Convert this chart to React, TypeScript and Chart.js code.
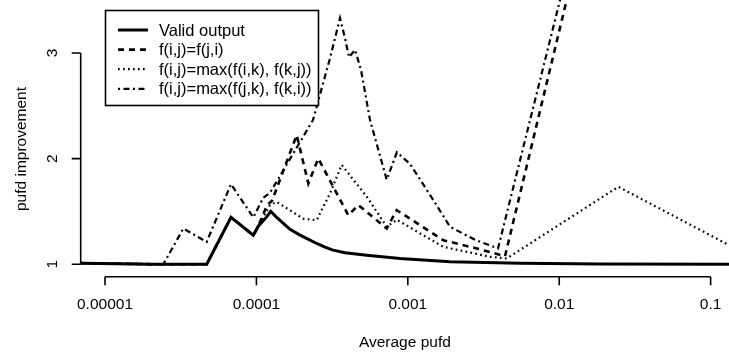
import React, { useEffect, useRef } from 'react';
import { Chart, registerables } from 'chart.js';

Chart.register(...registerables);

const FONT = '"Liberation Sans", Arial, Helvetica, sans-serif';

const seriesLabels = [
  'Valid output',
  'f(i,j)=f(j,i)',
  'f(i,j)=max(f(i,k), f(k,j))',
  'f(i,j)=max(f(j,k), f(k,i))',
];

const xTitle = 'Average pufd';
const yTitle = 'pufd improvement';

// Valid output (solid)
const validX = [6.91e-6, 2.0e-5, 4.695e-5, 6.795e-5, 9.539e-5, 1.029e-4, 1.169e-4, 1.243e-4, 1.368e-4, 1.506e-4, 1.667e-4, 1.941e-4, 2.192e-4, 2.502e-4, 2.838e-4, 3.204e-4, 3.847e-4, 5.352e-4, 8.881e-4, 1.9e-3, 5.508e-3, 0.0186, 0.1322, 0.2];
const validY = [1.01, 1.0, 1.0, 1.443, 1.275, 1.36, 1.448, 1.5, 1.44, 1.386, 1.33, 1.275, 1.237, 1.196, 1.161, 1.133, 1.109, 1.085, 1.054, 1.022, 1.008, 1.002, 1.0, 1.0];

// f(i,j)=f(j,i) (dashed)
const symX = [6.91e-6, 2.0e-5, 4.695e-5, 6.795e-5, 9.539e-5, 1.029e-4, 1.175e-4, 1.268e-4, 1.845e-4, 2.202e-4, 2.563e-4, 4.046e-4, 4.71e-4, 7.254e-4, 8.446e-4, 1.716e-3, 2.851e-3, 4.385e-3, 0.01585];
const symY = [1.01, 1.0, 1.0, 1.443, 1.275, 1.36, 1.56, 1.6, 2.223, 1.765, 2.0, 1.464, 1.56, 1.338, 1.512, 1.227, 1.149, 1.076, 4.4];

// f(i,j)=max(f(i,k), f(k,j)) (dotted)
const maxIkX = [6.91e-6, 2.0e-5, 4.695e-5, 6.795e-5, 9.539e-5, 1.029e-4, 1.229e-4, 1.362e-4, 1.585e-4, 2.04e-4, 2.502e-4, 3.061e-4, 3.659e-4, 4.365e-4, 5.352e-4, 7.254e-4, 8.47e-4, 1.716e-3, 3.49e-3, 4.499e-3, 0.02457, 0.1322, 0.15];
const maxIkY = [1.01, 1.0, 1.0, 1.443, 1.275, 1.36, 1.56, 1.59, 1.53, 1.43, 1.417, 1.67, 1.94, 1.8, 1.64, 1.354, 1.42, 1.164, 1.07, 1.054, 1.733, 1.18, 1.14];

// f(i,j)=max(f(j,k), f(k,i)) (dot-dash)
const maxJkX = [6.91e-6, 2.427e-5, 3.291e-5, 4.695e-5, 6.795e-5, 9.539e-5, 1.11e-4, 1.229e-4, 2.364e-4, 3.061e-4, 3.566e-4, 3.847e-4, 4.089e-4, 4.48e-4, 4.908e-4, 5.627e-4, 7.254e-4, 8.47e-4, 1.034e-3, 1.474e-3, 1.9e-3, 2.78e-3, 3.943e-3, 0.01585];
const maxJkY = [1.01, 1.0, 1.338, 1.211, 1.758, 1.443, 1.63, 1.676, 2.365, 2.95, 3.33, 3.14, 2.96, 3.03, 2.84, 2.365, 1.8, 2.06, 1.95, 1.607, 1.354, 1.23, 1.15, 4.62];

const xTicks = [0.00001, 0.0001, 0.001, 0.01, 0.1];
const xTickLabels = ['0.00001', '0.0001', '0.001', '0.01', '0.1'];
const yTicks = [1, 2, 3];
const yTickLabels = ['1', '2', '3'];

const toPts = (xs: number[], ys: number[]) => xs.map((x, i) => ({ x, y: ys[i] }));

const rAxesPlugin = {
  id: 'rAxes',
  afterDraw(chart: any) {
    const { ctx, chartArea } = chart;
    const xs = chart.scales.x;
    const ys = chart.scales.y;
    ctx.save();
    ctx.strokeStyle = '#000';
    ctx.lineWidth = 1.6;
    ctx.setLineDash([]);
    ctx.beginPath();
    const by = chartArea.bottom;
    const xa = xs.getPixelForValue(xTicks[0]);
    const xb = xs.getPixelForValue(xTicks[xTicks.length - 1]);
    ctx.moveTo(xa, by);
    ctx.lineTo(xb, by);
    for (const v of xTicks) {
      const p = xs.getPixelForValue(v);
      ctx.moveTo(p, by);
      ctx.lineTo(p, by + 8.5);
    }
    const lx = chartArea.left;
    const ya = ys.getPixelForValue(yTicks[0]);
    const yb = ys.getPixelForValue(yTicks[yTicks.length - 1]);
    ctx.moveTo(lx, ya);
    ctx.lineTo(lx, yb);
    for (const v of yTicks) {
      const p = ys.getPixelForValue(v);
      ctx.moveTo(lx, p);
      ctx.lineTo(lx - 9, p);
    }
    ctx.stroke();
    // y axis title (R centres it slightly lower than the visible plot area)
    ctx.save();
    ctx.translate(22, 149);
    ctx.rotate(-Math.PI / 2);
    ctx.font = `15.5px ${FONT}`;
    ctx.fillStyle = '#000';
    ctx.textAlign = 'center';
    ctx.textBaseline = 'middle';
    ctx.fillText(yTitle, 0, 0);
    ctx.restore();
    ctx.restore();
  },
};

const legendPlugin = {
  id: 'rLegend',
  afterDraw(chart: any) {
    const { ctx } = chart;
    const left = 105.5;
    const top = 10.5;
    const w = 213;
    const h = 95;
    const rowY0 = 30;
    const rowGap = 19.6;
    ctx.save();
    ctx.fillStyle = '#fff';
    ctx.fillRect(left, top, w, h);
    ctx.strokeStyle = '#000';
    ctx.lineWidth = 1.6;
    ctx.setLineDash([]);
    ctx.strokeRect(left, top, w, h);
    ctx.font = `16.5px ${FONT}`;
    ctx.textBaseline = 'middle';
    ctx.textAlign = 'left';
    ctx.fillStyle = '#000';
    chart.data.datasets.forEach((ds: any, i: number) => {
      const y = rowY0 + i * rowGap;
      ctx.beginPath();
      ctx.lineWidth = ds.borderWidth;
      ctx.setLineDash(ds.borderDash || []);
      ctx.moveTo(118, y);
      ctx.lineTo(148, y);
      ctx.stroke();
      ctx.setLineDash([]);
      ctx.fillText(ds.label, 159, y + 1);
    });
    ctx.restore();
  },
};

export default function App() {
  const ref = useRef<HTMLCanvasElement>(null);
  useEffect(() => {
    const tickFont = { family: FONT, size: 15.5 };
    const chart = new Chart(ref.current as HTMLCanvasElement, {
      type: 'line',
      data: {
        datasets: [
          { label: seriesLabels[0], data: toPts(validX, validY), borderColor: '#000', borderWidth: 3, borderDash: [], pointRadius: 0, tension: 0, fill: false },
          { label: seriesLabels[1], data: toPts(symX, symY), borderColor: '#000', borderWidth: 2.6, borderDash: [6, 5], pointRadius: 0, tension: 0, fill: false },
          { label: seriesLabels[2], data: toPts(maxIkX, maxIkY), borderColor: '#000', borderWidth: 2.2, borderDash: [1.7, 3.3], pointRadius: 0, tension: 0, fill: false },
          { label: seriesLabels[3], data: toPts(maxJkX, maxJkY), borderColor: '#000', borderWidth: 2.2, borderDash: [2, 3.5, 6, 3.5], pointRadius: 0, tension: 0, fill: false },
        ],
      } as any,
      options: {
        animation: false,
        responsive: false,
        maintainAspectRatio: false,
        layout: { padding: 0 },
        plugins: { legend: { display: false }, tooltip: { enabled: false }, title: { display: false } },
        scales: {
          x: {
            type: 'logarithmic',
            min: 6.91e-6,
            max: 0.1322,
            afterBuildTicks: (s: any) => { s.ticks = xTicks.map((v) => ({ value: v })); },
            afterFit: (s: any) => { s.height = 75.3; s.paddingLeft = 0; s.paddingRight = 0; s.paddingTop = 0; s.paddingBottom = 0; },
            grid: { display: false, drawTicks: false },
            border: { display: false },
            ticks: {
              autoSkip: false, minRotation: 0, maxRotation: 0, padding: 19, color: '#000', font: tickFont,
              callback: (_v: any, i: number) => xTickLabels[i],
            },
            title: { display: true, text: xTitle, color: '#000', font: tickFont, padding: { top: 0, bottom: 0 } },
          },
          y: {
            type: 'linear',
            min: 0.8815,
            max: 3.502,
            afterBuildTicks: (s: any) => { s.ticks = yTicks.map((v) => ({ value: v })); },
            afterFit: (s: any) => { s.width = 80.7; s.paddingLeft = 0; s.paddingRight = 0; s.paddingTop = 0; s.paddingBottom = 0; },
            grid: { display: false, drawTicks: false },
            border: { display: false },
            ticks: {
              autoSkip: false, minRotation: 90, maxRotation: 90, crossAlign: 'center', padding: 24, color: '#000', font: tickFont,
              callback: (_v: any, i: number) => yTickLabels[i],
            },
            title: { display: false },
          },
        },
      } as any,
      plugins: [rAxesPlugin, legendPlugin],
    });
    return () => chart.destroy();
  }, []);
  return (
    <div style={{ position: 'fixed', left: 0, top: 0, width: 729, height: 352, background: '#fff' }}>
      <canvas ref={ref} width={729} height={352} style={{ display: 'block', width: 729, height: 352 }} />
    </div>
  );
}
